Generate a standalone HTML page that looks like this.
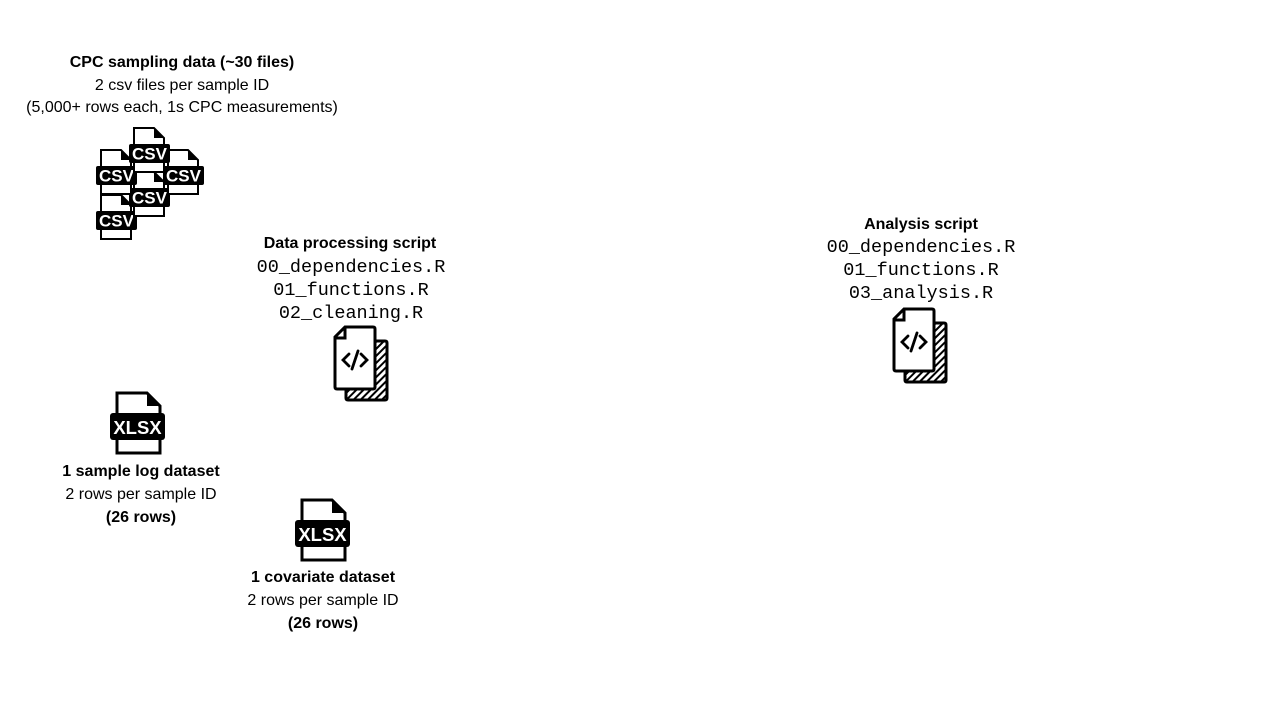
<!DOCTYPE html>
<html><head><style>
html,body{margin:0;padding:0;background:#fff;}
svg{display:block}
.t{font-family:"Liberation Sans",sans-serif;font-size:16px;fill:#000;text-anchor:middle}
.b{font-weight:bold}
.m{font-family:"Liberation Mono",monospace;font-size:18.5px;fill:#000;text-anchor:middle}
.lbl{font-family:"Liberation Sans",sans-serif;font-weight:bold;fill:#fff;text-anchor:middle}
</style></head><body>
<svg width="1280" height="720" viewBox="0 0 1280 720" xmlns="http://www.w3.org/2000/svg">
<defs>
<pattern id="h" width="5" height="5" patternUnits="userSpaceOnUse" patternTransform="rotate(45)">
<rect width="5" height="5" fill="#fff"/><rect width="2" height="5" fill="#000"/></pattern>
<g id="csv">
<path d="M4 0 H24 L34 10 V44 H4 Z" fill="#fff" stroke="#000" stroke-width="2"/>
<path d="M24 0 V10 H34 Z" fill="#000"/>
<rect x="-1" y="16" width="41" height="19" rx="2" fill="#000"/>
<text x="19.5" y="31.5" class="lbl" font-size="17">CSV</text>
</g>
<g id="code">
<path d="M12 15 H51 Q53 15 53 17 V72 Q53 74 51 74 H14 Q12 74 12 72 Z" fill="url(#h)" stroke="#000" stroke-width="3"/>
<path d="M11 1 H39 Q41 1 41 3 V61 Q41 63 39 63 H3 Q1 63 1 61 V11 Z" fill="#fff" stroke="#000" stroke-width="3"/>
<path d="M2 12 H11 V2" fill="none" stroke="#000" stroke-width="3"/>
<path d="M15 28 L9 34 L15 40 M27 28 L33 34 L27 40 M24 25 L18 43" fill="none" stroke="#000" stroke-width="2.8" stroke-linecap="round"/>
</g>
<g id="xlsx">
<path d="M7 0 H37 L50 13 V60 H7 Z" fill="#fff" stroke="#000" stroke-width="3"/>
<path d="M37 0 V13 H50 Z" fill="#000"/>
<rect x="0" y="20" width="55" height="27" rx="3" fill="#000"/>
<text x="27.5" y="41" class="lbl" font-size="18.5">XLSX</text>
</g>
</defs>

<text x="182" y="67" class="t b">CPC sampling data (~30 files)</text>
<text x="182" y="90" class="t">2 csv files per sample ID</text>
<text x="182" y="112" class="t">(5,000+ rows each, 1s CPC measurements)</text>

<use href="#csv" x="97" y="195"/>
<use href="#csv" x="130" y="172"/>
<use href="#csv" x="164" y="150"/>
<use href="#csv" x="97" y="150"/>
<use href="#csv" x="130" y="128"/>

<text x="350" y="248" class="t b">Data processing script</text>
<text x="351" y="272" class="m">00_dependencies.R</text>
<text x="351" y="295" class="m">01_functions.R</text>
<text x="351" y="318" class="m">02_cleaning.R</text>
<use href="#code" x="334" y="326"/>

<text x="921" y="229" class="t b">Analysis script</text>
<text x="921" y="252" class="m">00_dependencies.R</text>
<text x="921" y="275" class="m">01_functions.R</text>
<text x="921" y="298" class="m">03_analysis.R</text>
<use href="#code" x="893" y="308"/>

<use href="#xlsx" x="110" y="393"/>
<text x="141" y="476" class="t b">1 sample log dataset</text>
<text x="141" y="499" class="t">2 rows per sample ID</text>
<text x="141" y="522" class="t b">(26 rows)</text>

<use href="#xlsx" x="295" y="500"/>
<text x="323" y="582" class="t b">1 covariate dataset</text>
<text x="323" y="605" class="t">2 rows per sample ID</text>
<text x="323" y="628" class="t b">(26 rows)</text>
</svg>
</body></html>
